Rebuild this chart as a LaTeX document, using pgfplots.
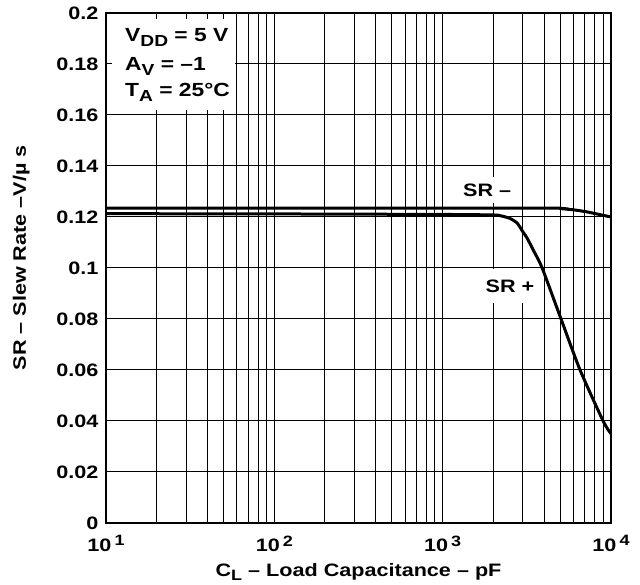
\documentclass[border=0pt]{standalone}
\usepackage{pgfplots}
\pgfplotsset{compat=1.18}
\usepackage{fontspec}
\setmainfont{Liberation Sans}[FakeStretch=1.2]
\pgfdeclarelayer{boxlayer}
\pgfplotsset{
 layers/mylayers/.define layer set={axis background,axis grid,boxlayer,axis ticks,axis lines,axis tick labels,main,axis descriptions,axis foreground}{
   grid style={/pgfplots/on layer=axis grid},
   tick style={/pgfplots/on layer=axis ticks},
   axis line style={/pgfplots/on layer=axis lines},
   label style={/pgfplots/on layer=axis descriptions},
   legend style={/pgfplots/on layer=axis descriptions},
   title style={/pgfplots/on layer=axis descriptions},
   colorbar style={/pgfplots/on layer=axis descriptions},
   ticklabel style={/pgfplots/on layer=axis tick labels},
   axis background@ style={/pgfplots/on layer=axis background},
   3d box foreground style={/pgfplots/on layer=axis foreground},
 },
}
\newcommand{\sub}[1]{\raisebox{-4.5pt}{\fontsize{16}{16}\selectfont #1}}
\newcommand{\sups}[1]{10\,\raisebox{5.5pt}{\fontsize{15}{15}\selectfont #1}}

\pgfplotstableread{
x y
10 0.1213
100 0.1212
1000 0.1210
2000 0.1208
2200 0.1205
2500 0.1195
2770 0.1176
3010 0.1140
3170 0.1118
3500 0.1063
3900 0.1000
5050 0.0800
6550 0.0600
8980 0.0400
10000 0.0350
}\srplus

\pgfplotstableread{
x y
10 0.1235
1000 0.1235
4500 0.1235
5000 0.1233
6000 0.1228
7200 0.1220
8500 0.1210
10000 0.1200
}\srminus

\begin{document}
\begin{tikzpicture}
\path (-106pt,-62pt) rectangle (534pt,523pt);
\begin{axis}[
 set layers=mylayers,
 xmode=log, log basis x=10,
 xmin=10, xmax=10000, ymin=0, ymax=0.2,
 scale only axis, width=505pt, height=510pt,
 xtick={10,100,1000,10000},
 xticklabels={\sups{1},\sups{2},\sups{3},\sups{4}},
 minor xtick={20,30,40,50,60,70,80,90,200,300,400,500,600,700,800,900,2000,3000,4000,5000,6000,7000,8000,9000},
 ytick={0,0.02,0.04,0.06,0.08,0.1,0.12,0.14,0.16,0.18,0.2},
 yticklabels={0,0.02,0.04,0.06,0.08,0.1,0.12,0.14,0.16,0.18,0.2},
 grid=both,
 major grid style={black, line width=1pt},
 minor grid style={black, line width=1pt},
 axis line style={line width=2.5pt},
 tick align=inside,
 major tick length=6pt, minor tick length=6pt,
 tick style={black, line width=1pt},
 ticklabel style={font=\fontsize{18}{18}\selectfont\bfseries},
 xticklabel style={yshift=-9pt},
 yticklabel style={xshift=-4pt},
 label style={font=\fontsize{18}{18}\selectfont\bfseries},
 xlabel={C\raisebox{-4pt}{\fontsize{15}{15}\selectfont L} – Load Capacitance – pF},
 xlabel style={at={(rel axis cs:0.5,0)}, anchor=base, yshift=-54pt},
 ylabel={SR – Slew Rate –V/µ s},
 ylabel style={at={(rel axis cs:0,0.52)}, anchor=base, yshift=80pt},
]
\begin{pgfonlayer}{boxlayer}
\fill[white] (axis cs:10,0.162) rectangle (axis cs:58,0.2);
\end{pgfonlayer}
\addplot[black, line width=3pt, smooth, tension=0.4] table[x=x,y=y] {\srminus};
\addplot[black, line width=3pt, smooth, tension=0.4] table[x=x,y=y] {\srplus};
\node[fill=white, inner xsep=4pt, minimum height=26pt, font=\fontsize{18}{18}\selectfont\bfseries] at (axis cs:1837,0.1306) {SR –};
\node[fill=white, inner xsep=4pt, minimum height=34pt, font=\fontsize{18}{18}\selectfont\bfseries] at (axis cs:2512,0.0929) {SR +};
\node[anchor=base west, inner sep=0pt, font=\fontsize{19}{19}\selectfont\bfseries] at ([shift={(19pt,-29pt)}]rel axis cs:0,1) {V\sub{DD} = 5 V};
\node[anchor=base west, inner sep=0pt, font=\fontsize{19}{19}\selectfont\bfseries] at ([shift={(19pt,-58pt)}]rel axis cs:0,1) {A\sub{V} = –1};
\node[anchor=base west, inner sep=0pt, font=\fontsize{19}{19}\selectfont\bfseries] at ([shift={(19pt,-84pt)}]rel axis cs:0,1) {T\sub{A} = 25°C};
\end{axis}
\end{tikzpicture}
\end{document}
